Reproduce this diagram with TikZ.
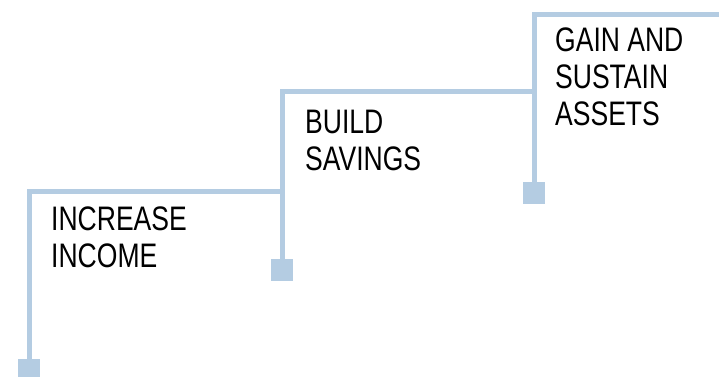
\documentclass[tikz,border=0pt]{standalone}
\usepackage{fontspec}
\setmainfont[FakeStretch=0.78]{Liberation Sans}
\definecolor{stepblue}{RGB}{180,204,226}
\tikzset{
  stepline/.style={draw=stepblue, line width=5pt},
  stepend/.style={fill=stepblue, minimum size=22pt, inner sep=0pt},
  steplabel/.style={anchor=north west, inner sep=0pt, align=left,
    font=\fontsize{34}{37}\selectfont},
}
\begin{document}
\begin{tikzpicture}[x=1pt,y=-1pt]
  \useasboundingbox (0,0) rectangle (719,376);
  \node[stepend] (e1) at (29,370) {};
  \node[stepend] (e2) at (282,270) {};
  \node[stepend] (e3) at (534,193) {};
  \coordinate (c1) at (29,191);
  \coordinate (c2) at (282,91);
  \coordinate (c3) at (534,14);
  \coordinate (r) at (719,14);
  \draw [stepline] (e1) -- (c1) -| (e2);
  \draw [stepline] (e2) -- (c2) -| (e3);
  \draw [stepline] (e3) -- (c3) -- (r);
  \node[steplabel] (t1) at (51,207) {INCREASE\\INCOME};
  \node[steplabel] (t2) at (305,110) {BUILD\\SAVINGS};
  \node[steplabel] (t3) at (555,28) {GAIN AND\\SUSTAIN\\ASSETS};
\end{tikzpicture}
\end{document}
